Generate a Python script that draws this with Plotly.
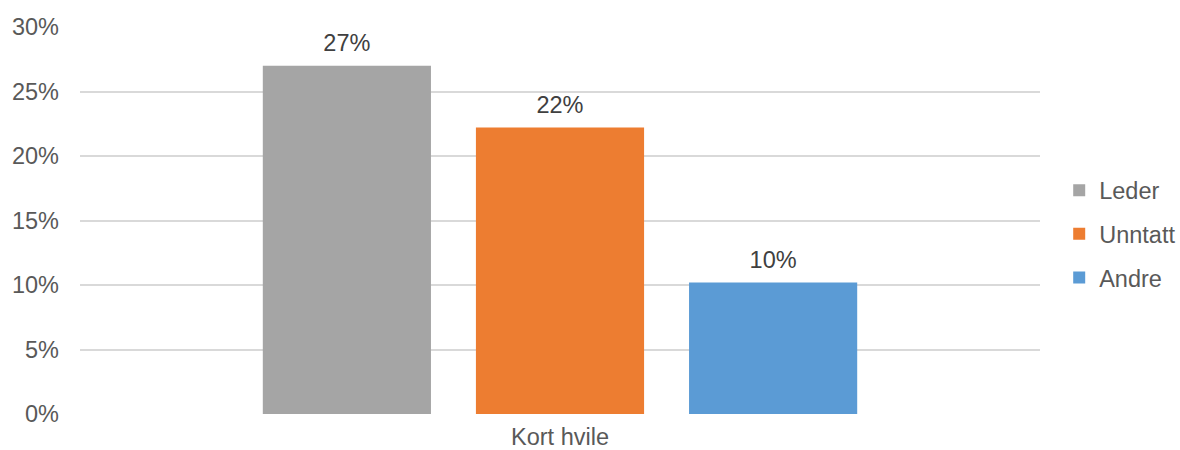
import plotly.graph_objects as go

# Share of respondents reporting short rest, by group
categories = ["Kort hvile"]
groups = ["Leder", "Unntatt", "Andre"]
leder = [0.27]
unntatt = [0.222]
andre = [0.102]
colors = ["#A5A5A5", "#ED7D31", "#5B9BD5"]
y_ticks = [0, 0.05, 0.10, 0.15, 0.20, 0.25, 0.30]

series = [leder, unntatt, andre]
font_family = "Liberation Sans, Arial, sans-serif"
font_size = 23.5
group_gap = 0.334

fig = go.Figure()
for name, vals, color in zip(groups, series, colors):
    fig.add_trace(go.Bar(
        name=name,
        x=categories,
        y=vals,
        marker=dict(color=color, line=dict(width=0)),
        offsetgroup=name,
        legendgroup=name,
    ))

# value labels: text-only scatter points grouped like the bars,
# with an invisible marker giving some room above each bar
for name, vals in zip(groups, series):
    fig.add_trace(go.Scatter(
        name=name,
        x=categories,
        y=vals,
        mode="markers+text",
        marker=dict(size=12, opacity=0),
        texttemplate="%{y:.0%}",
        textposition="top center",
        textfont=dict(size=font_size, color="#404040", family=font_family),
        offsetgroup=name,
        cliponaxis=False,
        showlegend=False,
        hoverinfo="skip",
    ))

fig.update_layout(
    width=1180,
    height=450,
    margin=dict(l=80, r=140, t=27, b=36, autoexpand=False),
    paper_bgcolor="white",
    plot_bgcolor="white",
    barmode="group",
    bargap=group_gap,
    bargroupgap=0.211,
    scattermode="group",
    scattergap=group_gap,
    font=dict(family=font_family, color="#595959", size=font_size),
    showlegend=True,
    legend=dict(
        x=1.02, xanchor="left",
        y=0.465, yanchor="middle",
        font=dict(size=font_size, color="#595959"),
        tracegroupgap=10,
        itemclick=False,
        bgcolor="rgba(0,0,0,0)",
    ),
)

fig.update_yaxes(
    range=[0, 0.30],
    tickvals=y_ticks,
    tickformat=".0%",
    showgrid=True,
    gridcolor="#D9D9D9",
    gridwidth=1.5,
    zeroline=False,
    showline=False,
    ticks="",
    ticklabelstandoff=20,
    tickfont=dict(size=font_size, color="#595959"),
)
fig.update_xaxes(
    showgrid=False,
    showline=False,
    ticks="",
    ticklabelstandoff=6,
    tickfont=dict(size=font_size, color="#595959"),
)

fig.write_html("out.html")
